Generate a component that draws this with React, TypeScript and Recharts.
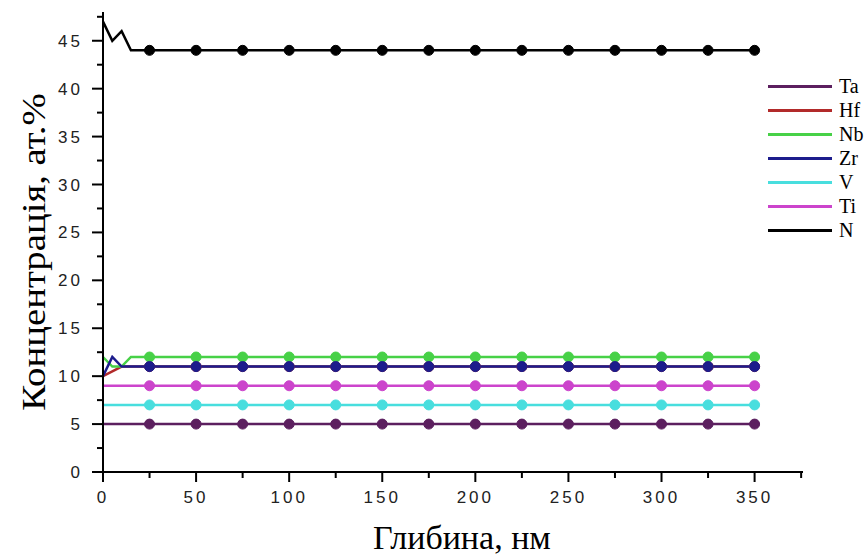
import { LineChart, Line, XAxis, YAxis } from "recharts";

const depth = [0, 5, 10, 15, 25, 50, 75, 100, 125, 150, 175, 200, 225, 250, 275, 300, 325, 350];
const ta = [5, 5, 5, 5, 5, 5, 5, 5, 5, 5, 5, 5, 5, 5, 5, 5, 5, 5];
const hf = [10, 10.5, 11, 11, 11, 11, 11, 11, 11, 11, 11, 11, 11, 11, 11, 11, 11, 11];
const nb = [12, 11, 11, 12, 12, 12, 12, 12, 12, 12, 12, 12, 12, 12, 12, 12, 12, 12];
const zr = [10, 12, 11, 11, 11, 11, 11, 11, 11, 11, 11, 11, 11, 11, 11, 11, 11, 11];
const v = [7, 7, 7, 7, 7, 7, 7, 7, 7, 7, 7, 7, 7, 7, 7, 7, 7, 7];
const ti = [9, 9, 9, 9, 9, 9, 9, 9, 9, 9, 9, 9, 9, 9, 9, 9, 9, 9];
const n = [47, 45, 46, 44, 44, 44, 44, 44, 44, 44, 44, 44, 44, 44, 44, 44, 44, 44];

const xTicks = [0, 25, 50, 75, 100, 125, 150, 175, 200, 225, 250, 275, 300, 325, 350, 375];
const yTicks = [0, 2.5, 5, 7.5, 10, 12.5, 15, 17.5, 20, 22.5, 25, 27.5, 30, 32.5, 35, 37.5, 40, 42.5, 45, 47.5];

const series = [
  { key: "Ta", values: ta, color: "#5c1f5f" },
  { key: "Hf", values: hf, color: "#b22a2a" },
  { key: "Nb", values: nb, color: "#47d147" },
  { key: "Zr", values: zr, color: "#1c1c8c" },
  { key: "V", values: v, color: "#48dede" },
  { key: "Ti", values: ti, color: "#cc44cc" },
  { key: "N", values: n, color: "#000000" },
];

const data = depth.map((d, i) => {
  const row: any = { depth: d };
  series.forEach((s) => (row[s.key] = s.values[i]));
  return row;
});

const makeDot = (color: string) => (props: any) => {
  const { cx, cy, payload, index } = props;
  if (payload.depth < 25) return <g key={index} />;
  return <circle key={index} cx={cx} cy={cy} r={5} fill={color} stroke={color} />;
};

const sans = "Liberation Sans, Arial, sans-serif";
const serif = "Liberation Serif, Times New Roman, serif";

const XTick = (props: any) => {
  const { x, y, payload } = props;
  const v = payload.value;
  const major = v % 50 === 0;
  return (
    <g>
      <line x1={x} x2={x} y1={y} y2={y + (major ? 10 : 6)} stroke="#000" strokeWidth={2} />
      {major && v <= 350 && (
        <text x={x} y={y + 31} textAnchor="middle" fontFamily={sans} fontSize={17} fill="#222" letterSpacing={3}>
          {v}
        </text>
      )}
    </g>
  );
};

const YTick = (props: any) => {
  const { x, y, payload } = props;
  const v = payload.value;
  const major = v % 5 === 0;
  return (
    <g>
      <line x1={x - (major ? 11 : 6)} x2={x} y1={y} y2={y} stroke="#000" strokeWidth={2} />
      {major && (
        <text x={x - 20} y={y + 6} textAnchor="end" fontFamily={sans} fontSize={17} fill="#222" letterSpacing={3}>
          {v}
        </text>
      )}
    </g>
  );
};

export default function App() {
  return (
    <div style={{ position: "absolute", left: 0, top: 0, width: 868, height: 559, background: "#fff" }}>
      <LineChart width={868} height={559} data={data} margin={{ top: 12, right: 65, bottom: 0, left: 43 }}>
        <XAxis
          dataKey="depth"
          type="number"
          domain={[0, 376]}
          ticks={xTicks}
          stroke="#000"
          strokeWidth={2}
          tickLine={false}
          tickSize={0}
          tickMargin={0}
          tick={<XTick />}
          interval={0}
          height={87}
        />
        <YAxis
          type="number"
          domain={[0, 48]}
          ticks={yTicks}
          stroke="#000"
          strokeWidth={2}
          tickLine={false}
          tickSize={0}
          tickMargin={0}
          tick={<YTick />}
          interval={0}
          width={60}
        />
        {series.map((s) => (
          <Line
            key={s.key}
            dataKey={s.key}
            stroke={s.color}
            strokeWidth={2.5}
            dot={makeDot(s.color)}
            activeDot={false}
            isAnimationActive={false}
          />
        ))}
      </LineChart>
      <div style={{ position: "absolute", left: 768, top: 74, fontFamily: serif, fontSize: 20 }}>
        {series.map((s) => (
          <div key={s.key} style={{ display: "flex", alignItems: "center", height: 24 }}>
            <span style={{ width: 64, height: 3, background: s.color, marginRight: 7 }} />
            <span>{s.key}</span>
          </div>
        ))}
      </div>
      <div
        style={{
          position: "absolute",
          left: 34,
          top: 252,
          transform: "translate(-50%, -50%) rotate(-90deg) scaleX(1.14)",
          whiteSpace: "nowrap",
          fontFamily: serif,
          fontSize: 34,
        }}
      >
        Концентрація, ат.%
      </div>
      <div
        style={{
          position: "absolute",
          left: 462,
          top: 538,
          transform: "translate(-50%, -50%)",
          whiteSpace: "nowrap",
          fontFamily: serif,
          fontSize: 34,
        }}
      >
        Глибина, нм
      </div>
    </div>
  );
}
